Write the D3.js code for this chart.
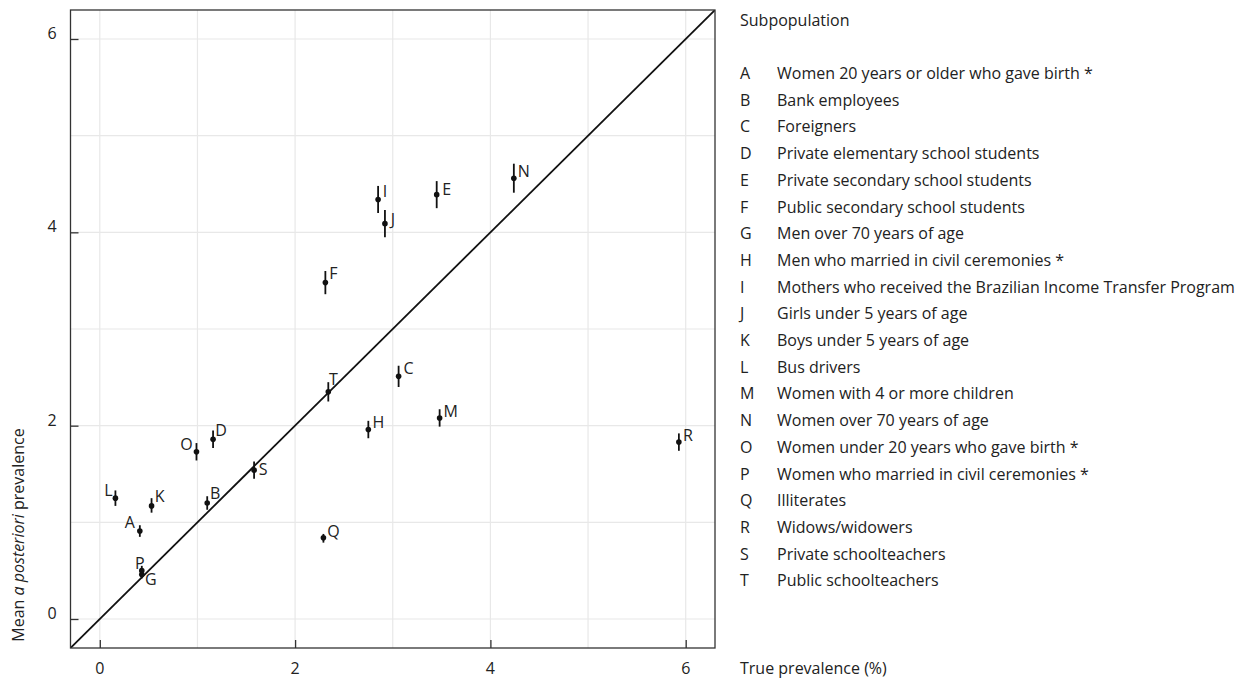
<!DOCTYPE html>
<html><head><meta charset="utf-8">
<script src="https://cdn.jsdelivr.net/npm/d3@7"></script>
<style>
body{margin:0;background:#fff;}
text{font-family:"Open Sans","Noto Sans",sans-serif;fill:#222;}
</style></head>
<body><svg id="c" width="1241" height="678"></svg>
<script>
const letters = ["A","B","C","D","E","F","G","H","I","J","K","L","M","N","O","P","Q","R","S","T"];
const descriptions = [
 "Women 20 years or older who gave birth *",
 "Bank employees",
 "Foreigners",
 "Private elementary school students",
 "Private secondary school students",
 "Public secondary school students",
 "Men over 70 years of age",
 "Men who married in civil ceremonies *",
 "Mothers who received the Brazilian Income Transfer Program",
 "Girls under 5 years of age",
 "Boys under 5 years of age",
 "Bus drivers",
 "Women with 4 or more children",
 "Women over 70 years of age",
 "Women under 20 years who gave birth *",
 "Women who married in civil ceremonies *",
 "Illiterates",
 "Widows/widowers",
 "Private schoolteachers",
 "Public schoolteachers"
];
const truePrev = [0.41,1.10,3.06,1.16,3.45,2.31,0.43,2.75,2.85,2.92,0.53,0.16,3.48,4.24,0.99,0.43,2.29,5.93,1.58,2.34];
const meanPost = [0.91,1.20,2.51,1.86,4.39,3.48,0.46,1.96,4.34,4.09,1.17,1.25,2.08,4.56,1.73,0.50,0.84,1.83,1.54,2.35];
const lower    = [0.85,1.13,2.40,1.77,4.25,3.36,0.42,1.87,4.20,3.95,1.10,1.17,1.99,4.41,1.64,0.45,0.79,1.74,1.45,2.25];
const upper    = [0.97,1.27,2.62,1.95,4.53,3.60,0.50,2.05,4.48,4.23,1.25,1.33,2.17,4.71,1.82,0.55,0.88,1.92,1.63,2.45];
const xTicks = [0,2,4,6];
const yTicks = [0,2,4,6];
const gridVals = [0,1,2,3,4,5,6];

// label offsets (layout, px)
const labOff = {A:[-10,-9],B:[8,-10],C:[10,-8],D:[8,-9],E:[10,-6],F:[8,-10],G:[9,4],H:[10,-8],I:[7,-8],J:[8,-5],
 K:[8,-10],L:[-7,-8],M:[11,-7],N:[10,-7],O:[-10,-8],P:[-2,-8],Q:[10,-7],R:[9,-7],S:[9,-1],T:[5,-13]};

const FS = 16;
const svg = d3.select("#c");
const L=70.5, R=715, T=10, B=648;
const x = d3.scaleLinear().domain([-0.3,6.3]).range([L,R]);
const y = d3.scaleLinear().domain([-0.3,6.3]).range([B,T]);

svg.append("clipPath").attr("id","cl").append("rect").attr("x",L).attr("y",T).attr("width",R-L).attr("height",B-T);

// grid
svg.append("g").selectAll("line").data(gridVals).join("line")
 .attr("x1",d=>x(d)).attr("x2",d=>x(d)).attr("y1",T).attr("y2",B)
 .attr("stroke","#e8e8e8").attr("stroke-width",1.2);
svg.append("g").selectAll("line").data(gridVals).join("line")
 .attr("y1",d=>y(d)).attr("y2",d=>y(d)).attr("x1",L).attr("x2",R)
 .attr("stroke","#e8e8e8").attr("stroke-width",1.2);

// diagonal
svg.append("line").attr("clip-path","url(#cl)")
 .attr("x1",x(-0.3)).attr("y1",y(-0.3)).attr("x2",x(6.3)).attr("y2",y(6.3))
 .attr("stroke","#111").attr("stroke-width",1.8);

// frame
svg.append("rect").attr("x",L).attr("y",T).attr("width",R-L).attr("height",B-T)
 .attr("fill","none").attr("stroke","#333").attr("stroke-width",1.3);

// axes (ticks inside)
const xAxis = svg.append("g").attr("transform",`translate(0,${B})`)
 .call(d3.axisTop(x).tickValues(xTicks).tickSize(8).tickFormat(""));
xAxis.select(".domain").remove();
xAxis.selectAll("line").attr("stroke","#333").attr("stroke-width",1.3);
svg.append("g").selectAll("text").data(xTicks).join("text")
 .attr("x",d=>x(d)).attr("y",668).attr("text-anchor","middle").attr("dominant-baseline","central")
 .attr("font-size",FS).text(d=>d);

const yAxis = svg.append("g").attr("transform",`translate(${L},0)`)
 .call(d3.axisRight(y).tickValues(yTicks).tickSize(8).tickFormat(""));
yAxis.select(".domain").remove();
yAxis.selectAll("line").attr("stroke","#333").attr("stroke-width",1.3);
svg.append("g").selectAll("text").data(yTicks).join("text")
 .attr("x",52).attr("y",d=>y(d)-6).attr("text-anchor","middle").attr("dominant-baseline","central")
 .attr("font-size",FS).text(d=>d);

// axis titles
const yt = svg.append("text").attr("transform","translate(18,535) rotate(-90)")
 .attr("text-anchor","middle").attr("dominant-baseline","central").attr("font-size",FS);
yt.append("tspan").text("Mean ");
yt.append("tspan").attr("font-style","italic").text("a posteriori");
yt.append("tspan").text(" prevalence");
svg.append("text").attr("x",740).attr("y",668).attr("dominant-baseline","central")
 .attr("font-size",FS).text("True prevalence (%)");

// points
const data = letters.map((l,i)=>({l,x:truePrev[i],y:meanPost[i],lo:lower[i],hi:upper[i]}));
const g = svg.append("g");
g.selectAll("line").data(data).join("line")
 .attr("x1",d=>x(d.x)).attr("x2",d=>x(d.x)).attr("y1",d=>y(d.lo)).attr("y2",d=>y(d.hi))
 .attr("stroke","#111").attr("stroke-width",1.8);
g.selectAll("circle").data(data).join("circle")
 .attr("cx",d=>x(d.x)).attr("cy",d=>y(d.y)).attr("r",2.8).attr("fill","#111");
g.selectAll("text").data(data).join("text")
 .attr("x",d=>x(d.x)+labOff[d.l][0]).attr("y",d=>y(d.y)+labOff[d.l][1])
 .attr("text-anchor","middle").attr("dominant-baseline","central").attr("font-size",FS)
 .text(d=>d.l);

// legend
svg.append("text").attr("x",740).attr("y",20).attr("dominant-baseline","central").attr("font-size",FS).text("Subpopulation");
const lg = svg.append("g");
lg.selectAll("text.k").data(letters).join("text").attr("class","k")
 .attr("x",740).attr("y",(d,i)=>73+i*26.7).attr("dominant-baseline","central").attr("font-size",FS).text(d=>d);
lg.selectAll("text.d").data(descriptions).join("text").attr("class","d")
 .attr("x",777).attr("y",(d,i)=>73+i*26.7).attr("dominant-baseline","central").attr("font-size",FS).text(d=>d);
</script></body></html>
